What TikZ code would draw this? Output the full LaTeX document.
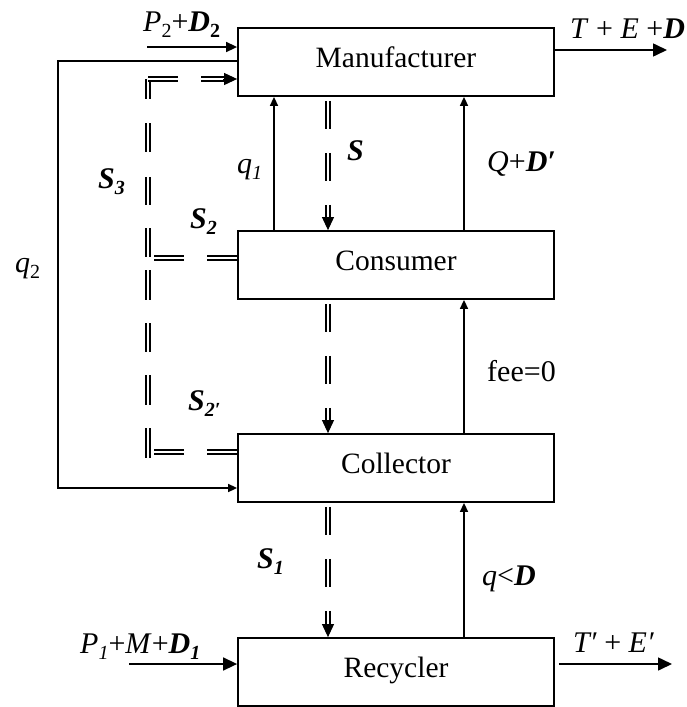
\documentclass[tikz,border=0pt]{standalone}
\usepackage{fontspec}
\setmainfont{Liberation Serif}
\usetikzlibrary{arrows.meta}
\newcommand\sbs[1]{\raisebox{-0.2em}{\fontsize{20}{21}\selectfont #1}}
\newcommand\bi[1]{\textbf{\textit{#1}}}
\begin{document}
\begin{tikzpicture}[x=1pt,y=-1pt,
  every node/.style={font=\fontsize{29.5}{34}\selectfont, inner sep=0pt},
  box/.style={draw, line width=1.8pt, minimum width=316pt, minimum height=68pt, text height=20pt, text depth=10pt},
  lbl/.style={anchor=base west, font=\fontsize{30}{35}\selectfont},
  ln/.style={line width=1.6pt},
  tipS/.style={ln, -{Triangle[length=9pt,width=8pt]}},
  tipM/.style={ln, -{Triangle[length=11pt,width=10pt]}},
  tipL/.style={ln, -{Triangle[length=14pt,width=13pt]}},
  dbl/.style={line width=1.9pt, double=white, double distance=2.4pt},
  dtip/.style={line width=1pt, -{Triangle[length=13pt,width=12pt]}},
  vdash/.style={dash pattern=on 28pt off 24pt, dash phase=48pt, shorten >=10pt},
  hdash/.style={dash pattern=on 30pt off 23pt}
]
\useasboundingbox (0,0) rectangle (686,707);

% boxes
\node[box] (man) at (396,62) {Manufacturer};
\node[box] (con) at (396,265) {Consumer};
\node[box] (col) at (396,468) {Collector};
\node[box] (rec) at (396,672) {Recycler};

% helper coordinates
\coordinate (xq1) at (274,0);
\coordinate (xs) at (328,0);
\coordinate (xr) at (464,0);
\coordinate (p2s) at (147,47);
\coordinate (tout) at (667,50);
\coordinate (q2a) at (58,61);
\coordinate (q2b) at (58,488);
\coordinate (p1s) at (129,664);
\coordinate (rout) at (672,664);
\coordinate (s3t) at (148,79);
\coordinate (s3b) at (148,458);
\coordinate (b2) at (151,258);
\coordinate (b2p) at (151,452);

% solid connectors
\draw[tipM] (p2s) -- (p2s -| man.west);
\draw[tipL] (tout -| man.east) -- (tout);
\draw[tipS] (q2a -| man.west) -- (q2a) -- (q2b) -- (q2b -| col.west);
\draw[tipS] (xq1 |- con.north) -- (xq1 |- man.south);
\draw[tipS] (xr |- con.north) -- (xr |- man.south);
\draw[tipS] (xr |- col.north) -- (xr |- con.south);
\draw[tipS] (xr |- rec.north) -- (xr |- col.south);
\draw[tipL] (p1s) -- (p1s -| rec.west);
\draw[tipL, shorten <=4pt] (rout -| rec.east) -- (rout);

% double dashed flows (vertical)
\draw[dbl, vdash] (xs |- man.south) -- (xs |- con.north);
\draw[dtip, shorten <=120pt] (xs |- man.south) -- (xs |- con.north);
\draw[dbl, vdash] (xs |- con.south) -- (xs |- col.north);
\draw[dtip, shorten <=120pt] (xs |- con.south) -- (xs |- col.north);
\draw[dbl, vdash] (xs |- col.south) -- (xs |- rec.north);
\draw[dtip, shorten <=121pt] (xs |- col.south) -- (xs |- rec.north);

% return flows S2, S2', S3
\draw[dbl, hdash] (b2 -| con.west) -- (b2);
\draw[dbl, hdash] (b2p -| col.west) -- (b2p);
\draw[dbl, dash pattern=on 20pt off 24pt on 29pt off 25pt on 28pt off 23pt on 29pt off 13pt on 30pt off 23pt on 29pt off 23pt on 30pt off 23pt on 30pt off 30pt] (s3t) -- (s3b);
\draw[dbl, dash pattern=on 30pt off 23pt on 100pt off 10pt, shorten >=10pt] (s3t) -- (s3t -| man.west);
\draw[dtip, shorten <=75pt] (s3t) -- (s3t -| man.west);

% labels
\node[lbl] (lp2) at (143,31) {\textit{P}\sbs{2}+\bi{D}\sbs{\textbf{2}}};
\node[lbl] (lt) at (570,38) {\textit{T} + \textit{E} +\bi{D}};
\node[lbl] (ls3) at (98,188) {\bi{S}\sbs{\bi{3}}};
\node[lbl] (lq1) at (237,173) {\textit{q}\sbs{\textit{1}}};
\node[lbl] (ls) at (347,160) {\bi{S}};
\node[lbl] (lq) at (487,171) {\textit{Q}+\bi{D′}};
\node[lbl] (ls2) at (190,228) {\bi{S}\sbs{\bi{2}}};
\node[lbl] (lq2) at (15,272) {\textit{q}\sbs{2}};
\node[lbl] (ls2p) at (188,410) {\bi{S}\sbs{\bi{2′}}};
\node[lbl] (lfee) at (487,381) {fee=0};
\node[lbl] (ls1) at (257,568) {\bi{S}\sbs{\bi{1}}};
\node[lbl] (lqd) at (482,585) {\textit{q}<\bi{D}};
\node[lbl] (lp1) at (80,653) {\textit{P}\sbs{\textit{1}}+\textit{M}+\bi{D}\sbs{\bi{1}}};
\node[lbl] (lt2) at (573,652) {\textit{T′} + \textit{E′}};
\end{tikzpicture}
\end{document}
